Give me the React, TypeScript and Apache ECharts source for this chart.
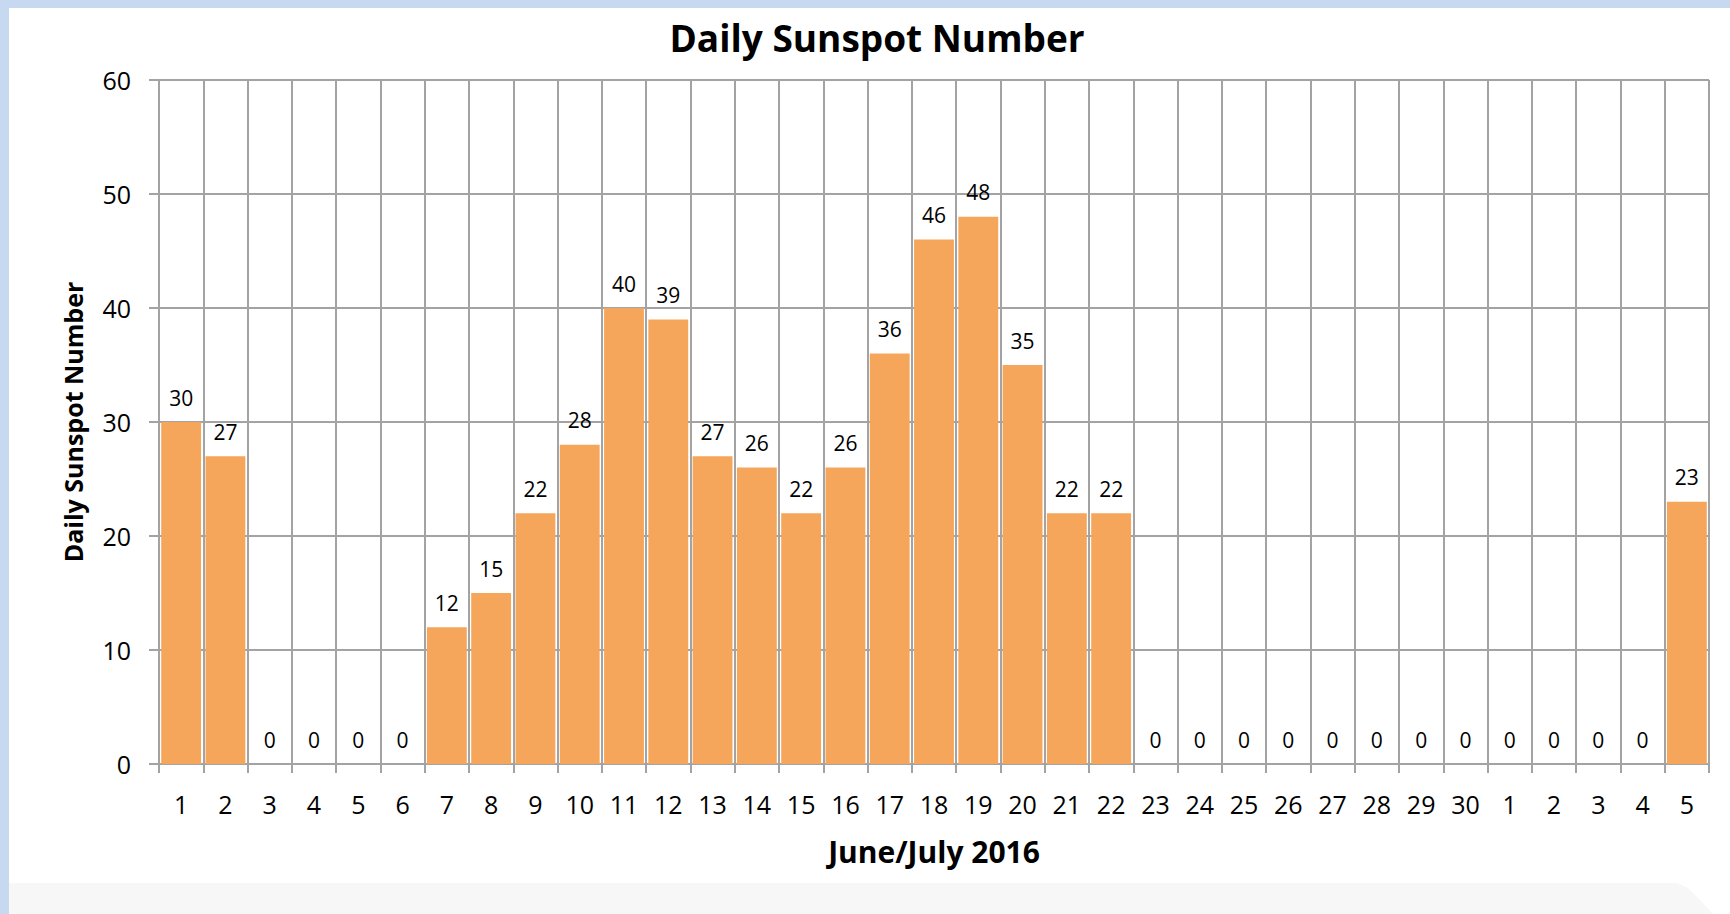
import React, { useEffect, useRef } from "react";
import * as echarts from "echarts";

const months: string[] = ["Jun", "Jul"];
const juneDays: number[] = [1, 2, 3, 4, 5, 6, 7, 8, 9, 10, 11, 12, 13, 14, 15, 16, 17, 18, 19, 20, 21, 22, 23, 24, 25, 26, 27, 28, 29, 30];
const julyDays: number[] = [1, 2, 3, 4, 5];
const categories: string[] = [
  ...juneDays.map((d) => `${months[0]} ${d}`),
  ...julyDays.map((d) => `${months[1]} ${d}`),
];
const sunspots: number[] = [
  30, 27, 0, 0, 0, 0, 12, 15, 22, 28,
  40, 39, 27, 26, 22, 26, 36, 46, 48, 35,
  22, 22, 0, 0, 0, 0, 0, 0, 0, 0,
  0, 0, 0, 0, 23,
];
const yTicks: number[] = [0, 10, 20, 30, 40, 50, 60];

const FONT = "Open Sans";
const GRID_COLOR = "#A3A3A3";

export default function App() {
  const ref = useRef<HTMLDivElement>(null);
  useEffect(() => {
    if (!ref.current) return;
    const chart = echarts.init(ref.current, undefined, { renderer: "svg" });
    chart.setOption({
      animation: false,
      backgroundColor: "#C6D9F1",
      graphic: [
        { type: "rect", z: -10, shape: { x: 9, y: 8, width: 1721, height: 875 }, style: { fill: "#FFFFFF" }, silent: true },
        { type: "rect", z: -10, shape: { x: 9, y: 883, width: 1721, height: 31 }, style: { fill: "#F7F7F7" }, silent: true },
        {
          type: "polygon",
          z: -9,
          shape: { points: [[1677, 883], [1730, 883], [1730, 914], [1713, 914], [1700, 900], [1688, 888]] },
          style: { fill: "#FFFFFF" },
          silent: true,
        },
      ],
      title: {
        text: "Daily Sunspot Number",
        left: 872,
        textAlign: "center",
        top: 14,
        textStyle: { fontFamily: FONT, fontWeight: "bold", fontSize: 37, color: "#000" },
      },
      grid: { left: 159, right: 21, top: 80, bottom: 150, containLabel: false },
      xAxis: {
        type: "category",
        data: categories,
        boundaryGap: true,
        name: "June/July 2016",
        nameLocation: "middle",
        nameGap: 72,
        nameTextStyle: { fontFamily: FONT, fontWeight: "bold", fontSize: 30, color: "#000" },
        axisLine: { show: true, lineStyle: { color: GRID_COLOR, width: 2 } },
        axisTick: { show: true, length: 9, alignWithLabel: false, interval: 0, lineStyle: { color: GRID_COLOR, width: 2 } },
        axisLabel: {
          interval: 0,
          margin: 27,
          fontFamily: FONT,
          fontSize: 25,
          color: "#000",
          formatter: (v: string) => v.split(" ")[1],
        },
        splitLine: { show: true, interval: 0, lineStyle: { color: GRID_COLOR, width: 2 } },
      },
      yAxis: {
        type: "value",
        min: 0,
        max: 60,
        interval: 10,
        name: "Daily Sunspot Number",
        nameLocation: "middle",
        nameGap: 74,
        nameTextStyle: { fontFamily: FONT, fontWeight: "bold", fontSize: 25, color: "#000" },
        axisLine: { show: true, lineStyle: { color: GRID_COLOR, width: 2 } },
        axisTick: { show: true, length: 10, lineStyle: { color: GRID_COLOR, width: 2 } },
        axisLabel: {
          margin: 28,
          fontFamily: FONT,
          fontSize: 25,
          color: "#000",
          formatter: (v: number) => (yTicks.includes(v) ? String(v) : ""),
        },
        splitLine: { show: true, lineStyle: { color: GRID_COLOR, width: 2 } },
      },
      series: [
        {
          type: "bar",
          data: sunspots,
          barCategoryGap: "10%",
          itemStyle: { color: "#F5A65A" },
          label: {
            show: true,
            position: "top",
            distance: 14,
            fontFamily: FONT,
            fontSize: 21,
            color: "#000",
          },
        },
      ],
    });
    return () => chart.dispose();
  }, []);
  return <div ref={ref} style={{ position: "fixed", left: 0, top: 0, width: 1730, height: 914 }} />;
}
